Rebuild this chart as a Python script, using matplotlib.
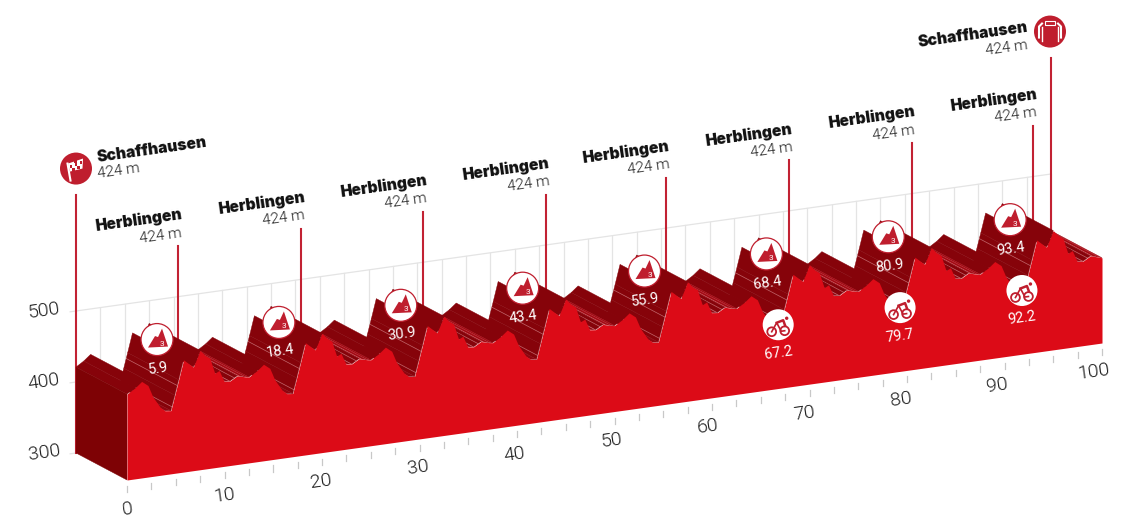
import numpy as np
import matplotlib
matplotlib.use("Agg")
import matplotlib.pyplot as plt
from matplotlib.patches import Circle, Polygon, Rectangle
from matplotlib.transforms import Affine2D, IdentityTransform

# profile, one row per lap
km = [0, 0.8, 1.5, 2.15, 2.65, 3.4, 3.9, 4.5, 4.9, 5.3, 5.8, 6.8, 7.5, 8, 8.5, 9, 9.45, 9.95, 10.55, 11.3, 12.1,
      12.5, 13.3, 14, 14.65, 15.15, 15.9, 16.4, 17, 17.4, 17.8, 18.3, 19.3, 20, 20.5, 21, 21.5, 21.95, 22.45, 23.05, 23.8, 24.6,
      25, 25.8, 26.5, 27.15, 27.65, 28.4, 28.9, 29.5, 29.9, 30.3, 30.8, 31.8, 32.5, 33, 33.5, 34, 34.45, 34.95, 35.55, 36.3, 37.1,
      37.5, 38.3, 39, 39.65, 40.15, 40.9, 41.4, 42, 42.4, 42.8, 43.3, 44.3, 45, 45.5, 46, 46.5, 46.95, 47.45, 48.05, 48.8, 49.6,
      50, 50.8, 51.5, 52.15, 52.65, 53.4, 53.9, 54.5, 54.9, 55.3, 55.8, 56.8, 57.5, 58, 58.5, 59, 59.45, 59.95, 60.55, 61.3, 62.1,
      62.5, 63.3, 64, 64.65, 65.15, 65.9, 66.4, 67, 67.4, 67.8, 68.3, 69.3, 70, 70.5, 71, 71.5, 71.95, 72.45, 73.05, 73.8, 74.6,
      75, 75.8, 76.5, 77.15, 77.65, 78.4, 78.9, 79.5, 79.9, 80.3, 80.8, 81.8, 82.5, 83, 83.5, 84, 84.45, 84.95, 85.55, 86.3, 87.1,
      87.5, 88.3, 89, 89.65, 90.15, 90.9, 91.4, 92, 92.4, 92.8, 93.3, 94.3, 95, 95.5, 96, 96.5, 96.95, 97.45, 98.05, 98.8, 99.6,
      100]
alt = [421, 428, 436, 429, 412, 396, 390, 389, 410, 431, 458, 446, 468, 460, 455, 433, 436, 420, 419, 425, 422,
       421, 428, 436, 429, 412, 396, 390, 389, 410, 431, 458, 446, 468, 460, 455, 433, 436, 420, 419, 425, 422,
       421, 428, 436, 429, 412, 396, 390, 389, 410, 431, 458, 446, 468, 460, 455, 433, 436, 420, 419, 425, 422,
       421, 428, 436, 429, 412, 396, 390, 389, 410, 431, 458, 446, 468, 460, 455, 433, 436, 420, 419, 425, 422,
       421, 428, 436, 429, 412, 396, 390, 389, 410, 431, 458, 446, 468, 460, 455, 433, 436, 420, 419, 425, 422,
       421, 428, 436, 429, 412, 396, 390, 389, 410, 431, 458, 446, 468, 460, 455, 433, 436, 420, 419, 425, 422,
       421, 428, 436, 429, 412, 396, 390, 389, 410, 431, 458, 446, 468, 460, 455, 433, 436, 420, 419, 425, 422,
       421, 428, 436, 429, 412, 396, 390, 389, 410, 431, 458, 446, 468, 460, 455, 433, 436, 420, 419, 425, 422,
       420]

climb_km = [5.9, 18.4, 30.9, 43.4, 55.9, 68.4, 80.9, 93.4]
sprint_km = [67.2, 79.7, 92.2]
town_km = [10.5, 23.1, 35.6, 48.2, 60.5, 73.1, 85.7, 98.2]
km_ticks = np.arange(0, 100.1, 2.5)
km_labels = [0, 10, 20, 30, 40, 50, 60, 70, 80, 90, 100]
alt_labels = [300, 400, 500]

RED = "#dc0b17"
ICON = "#bf1e2e"
LINE = "#c22233"
GRID = "#e4e4e4"
HEAVY = dict(family=["Inter", "DejaVu Sans"], weight=900, color="#111111", fontsize=11.3)
LIGHT = dict(family=["Roboto", "DejaVu Sans"], weight=300, color="#1c1c1c")

H = 527
# oblique view: km runs along a slope, the stage has a depth going up left
front = Affine2D.from_values(9.75, 1.37, 0, 0.71, 127, H - 480 - 0.71 * -300 - 0.71 * 600)
back = front + Affine2D().translate(-51, 27)
mid = front + Affine2D().translate(-27.5, 14.5)

fig = plt.figure(figsize=(11.33, 5.27), dpi=100)
ax = fig.add_axes([0, 0, 1, 1])
ax.set_xlim(0, 1133)
ax.set_ylim(0, 527)
ax.axis("off")

# back plane grid
for k in np.arange(2.5, 100.1, 2.5):
    ax.plot([k, k], [300, 500], transform=back, color=GRID, lw=0.9, zorder=1, clip_on=False)
ax.plot([-0.6, 100], [500, 500], transform=back, color=GRID, lw=0.9, zorder=1)
for a in [300, 400]:
    ax.plot([-0.6, 0], [a, a], transform=back, color=GRID, lw=0.9, zorder=1)

# start, finish and passage poles
ax.plot([0, 0], [300, 664], transform=back, color=LINE, lw=1.5, zorder=2)
ax.plot([100, 100], [420, 664], transform=back, color=LINE, lw=1.5, zorder=2)
for k in town_km:
    ax.plot([k, k], [400, 571], transform=back, color=LINE, lw=1.5, zorder=2)

# extruded top of the profile, drawn from far km to near km
px = front.transform(np.column_stack([km, alt]))
bk = back.transform(np.column_stack([km, alt]))
hair_off = [4.6, 5.15, 10.0, 10.5, 11.0, 11.5, 12.1]
order = 10
for i in range(len(km) - 2, -1, -1):
    slope = (px[i + 1, 1] - px[i, 1]) / (px[i + 1, 0] - px[i, 0])
    if slope < -27 / 51:
        continue
    if slope > 0.45:
        col = "#86030a"
    elif slope > 0:
        col = "#8e0610"
    else:
        col = "#a30913"
    quad = [px[i], px[i + 1], bk[i + 1], bk[i]]
    ax.add_patch(Polygon(quad, closed=True, transform=IdentityTransform(), fc=col, ec=col, lw=0.3, zorder=order))
    order += 0.01
    lap = int(km[i] // 12.5)
    for off in hair_off:
        if km[i] <= lap * 12.5 + off < km[i + 1]:
            h = lap * 12.5 + off
            a = np.interp(h, km, alt)
            ax.plot([h, h - 51 / 9.75], [a, a + 27 / 0.71 + 1.37 * 51 / 9.75 / 0.71], transform=front,
                    color="#f3b9bd", lw=0.5, alpha=0.55, zorder=order)
            order += 0.01

# left wall and front face
wall = [front.transform((0, 300)), front.transform((0, alt[0])), back.transform((0, alt[0])), back.transform((0, 300))]
ax.add_patch(Polygon(wall, closed=True, transform=IdentityTransform(), fc="#7e0205", ec="#7e0205", lw=0.3, zorder=20))
ax.fill_between(km, 300, alt, transform=front, color=RED, lw=0, zorder=21)

# km ticks below the base line
for k in km_ticks:
    ax.plot([k, k], [291.5, 283], transform=front, color="#c8c8c8", lw=0.9, zorder=3)
for k in km_labels:
    ax.annotate(str(k), xy=(k, 300), xycoords=front, xytext=(-0.09 * k + 1, -29), textcoords="offset pixels",
                ha="center", va="center", rotation=8, fontsize=14, zorder=5, **LIGHT)
for a in alt_labels:
    ax.annotate(str(a), xy=(0, a), xycoords=back, xytext=(-32, 0), textcoords="offset pixels",
                ha="center", va="center", rotation=8, fontsize=14, zorder=5, **LIGHT)


def place_labels(k, a, name, dx, dy1, dy2, ha):
    ax.annotate(name, xy=(k, a), xycoords=back, xytext=(dx, dy1), textcoords="offset pixels",
                ha=ha, va="baseline", rotation=8, rotation_mode="anchor", zorder=5, **HEAVY)
    ax.annotate("424 m", xy=(k, a), xycoords=back, xytext=(dx, dy2), textcoords="offset pixels",
                ha=ha, va="baseline", rotation=8, rotation_mode="anchor", fontsize=11, zorder=5, **LIGHT)


for k in town_km:
    place_labels(k, 571, "Herblingen", 4, 27, 9.5, "right")
place_labels(0, 664, "Schaffhausen", 22, 33, 17, "left")
place_labels(100, 664, "Schaffhausen", -23, 26, 8, "right")


def at(x, y, rot=0):
    return Affine2D().rotate_deg(rot).translate(x, y)


def climb_icon(k):
    x, y = mid.transform((k, 466))
    t = at(x, y)
    ax.add_patch(Circle((0, 0), 16, transform=t, fc="white", ec=ICON, lw=0.9, zorder=30))
    ax.add_patch(Polygon([(-9, -8), (-2, 3.5), (1, 2.5), (5, 11), (11, -7)], transform=t, fc=ICON, ec="none", zorder=31))
    ax.text(x + 5, y - 4, "3", color="white", fontsize=6, ha="center", va="center", zorder=32, family="Roboto",
            transform=IdentityTransform())
    ax.annotate(str(k), xy=(x, y), xycoords=IdentityTransform(), xytext=(1, -29), textcoords="offset pixels", color="white",
                ha="center", va="center", rotation=8, fontsize=10.5, zorder=32, family="Roboto", weight=400)


def sprint_icon(k):
    x, y = front.transform((k, 389))
    x -= 4
    t = at(x, y)
    ax.add_patch(Circle((0, 0), 15.5, transform=t, fc="white", ec="none", zorder=30))
    for cx, cy in [(-6.5, -7), (6.5, -6)]:
        ax.add_patch(Circle((cx, cy), 4.4, transform=t, fc="none", ec=ICON, lw=1.3, zorder=31))
    ax.plot([-6.5, -1.5, 3, 6.5], [-7, 2, -6.5, -6], transform=t, color=ICON, lw=1.2, zorder=31)
    ax.plot([-1.5, 5, 7], [2, 4.5, -1], transform=t, color=ICON, lw=1.8, zorder=31)
    ax.add_patch(Circle((8.5, 6.5), 1.7, transform=t, fc=ICON, ec="none", zorder=31))
    ax.annotate(str(k), xy=(x, y), xycoords=IdentityTransform(), xytext=(0, -28), textcoords="offset pixels", color="white",
                ha="center", va="center", rotation=8, fontsize=10.5, zorder=32, family="Roboto", weight=400)


for k in climb_km:
    climb_icon(k)
for k in sprint_km:
    sprint_icon(k)

# start flag
x0, y0 = back.transform((0, 664))
t = at(x0, y0 + 26)
ax.add_patch(Circle((0, 0), 16, transform=t, fc=ICON, ec="none", zorder=30))
ax.plot([-5.5, -8.5], [-12, 5], transform=t, color="white", lw=1.5, zorder=31)
ax.add_patch(Polygon([(-8, 5), (7, 10), (6.5, 0), (-6, -3)], transform=t, fc="white", ec="none", zorder=31))
for cx, cy in [(-5, 2), (0, 4), (5, 6), (-2.5, -1), (2.5, 1), (-0.5, 7)]:
    ax.add_patch(Rectangle((cx - 1.2, cy - 1.2), 2.4, 2.4, transform=t, fc=ICON, ec="none", zorder=32))

# finish arch
x1, y1 = back.transform((100, 664))
t = at(x1 - 1, y1 + 26)
ax.add_patch(Circle((0, 0), 16, transform=t, fc=ICON, ec="none", zorder=30))
ax.plot([-11, -11, -8], [-6, 5, 8], transform=t, color="white", lw=1.5, zorder=31)
ax.plot([11, 11, 8], [-6, 5, 8], transform=t, color="white", lw=1.5, zorder=31)
ax.plot([-8, -8], [5, -9], transform=t, color="white", lw=1, zorder=31)
ax.plot([8, 8], [5, -9], transform=t, color="white", lw=1, zorder=31)
ax.add_patch(Rectangle((-5, 7), 10, 3.5, transform=t, fc="none", ec="white", lw=0.8, zorder=31))

fig.savefig("out.png", dpi=100, facecolor="white")
